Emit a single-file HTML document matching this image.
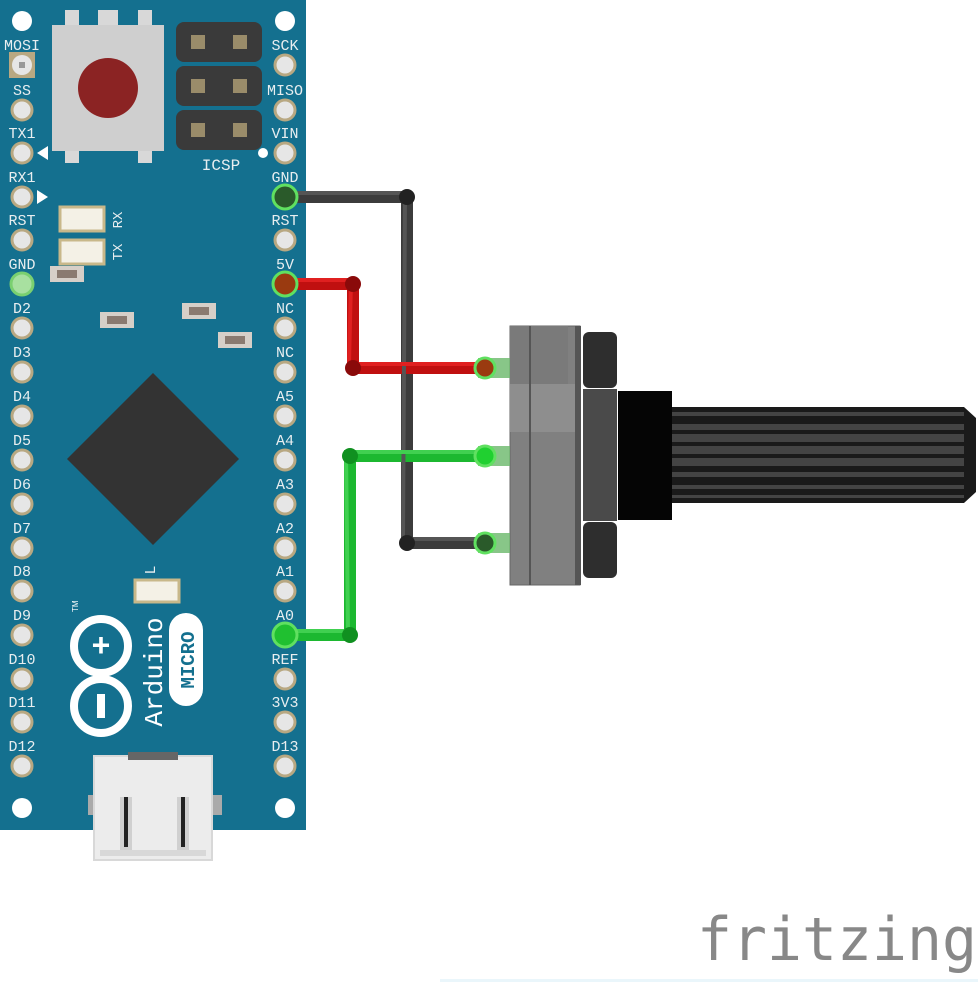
<!DOCTYPE html>
<html><head><meta charset="utf-8"><style>
html,body{margin:0;padding:0;background:#fff;width:978px;height:982px;overflow:hidden}
svg{display:block}
</style></head><body>
<svg width="978" height="982" viewBox="0 0 978 982" xmlns="http://www.w3.org/2000/svg">
<rect x="0" y="0" width="306" height="830" fill="#14708f"/>
<g fill="#fff"><circle cx="22" cy="21" r="10"/><circle cx="285" cy="21" r="10"/><circle cx="22" cy="808" r="10"/><circle cx="285" cy="808" r="10"/></g>
<g fill="#d8d8d8"><rect x="65" y="10" width="14" height="18"/><rect x="98" y="10" width="20" height="18"/><rect x="138" y="10" width="14" height="18"/><rect x="65" y="145" width="14" height="18"/><rect x="138" y="145" width="14" height="18"/></g>
<rect x="52" y="25" width="112" height="126" fill="#cfcfcf"/>
<circle cx="108" cy="88" r="30" fill="#8b2323"/>
<g fill="#3a3a3a"><rect x="176" y="22" width="86" height="40" rx="8"/><rect x="176" y="66" width="86" height="40" rx="8"/><rect x="176" y="110" width="86" height="40" rx="8"/></g>
<g fill="#9a8c6a"><rect x="191" y="35" width="14" height="14"/><rect x="233" y="35" width="14" height="14"/><rect x="191" y="79" width="14" height="14"/><rect x="233" y="79" width="14" height="14"/><rect x="191" y="123" width="14" height="14"/><rect x="233" y="123" width="14" height="14"/></g>
<circle cx="263" cy="153" r="5" fill="#fff"/>
<text x="221" y="170" font-family="Liberation Mono,monospace" font-size="16" fill="#e8eef0" text-anchor="middle">ICSP</text>
<polygon points="37,153 48,146 48,160" fill="#fff"/>
<polygon points="48,197 37,190 37,204" fill="#fff"/>
<rect x="60" y="207" width="44" height="24" fill="#f4f1e6" stroke="#c8b88a" stroke-width="3"/>
<rect x="60" y="240" width="44" height="24" fill="#f4f1e6" stroke="#c8b88a" stroke-width="3"/>
<text x="0" y="0" transform="translate(122,220) rotate(-90)" font-family="Liberation Mono,monospace" font-size="14" fill="#e8eef0" text-anchor="middle">RX</text>
<text x="0" y="0" transform="translate(122,252) rotate(-90)" font-family="Liberation Mono,monospace" font-size="14" fill="#e8eef0" text-anchor="middle">TX</text>
<rect x="135" y="580" width="44" height="22" fill="#f4f1e6" stroke="#c8b88a" stroke-width="3"/>
<text x="0" y="0" transform="translate(155,570) rotate(-90)" font-family="Liberation Mono,monospace" font-size="15" fill="#e8eef0" text-anchor="middle">L</text>
<g fill="#d6cfc8"><rect x="50" y="266" width="34" height="16"/><rect x="100" y="312" width="34" height="16"/><rect x="182" y="303" width="34" height="16"/><rect x="218" y="332" width="34" height="16"/></g>
<g fill="#8a7a70"><rect x="57" y="270" width="20" height="8"/><rect x="107" y="316" width="20" height="8"/><rect x="189" y="307" width="20" height="8"/><rect x="225" y="336" width="20" height="8"/></g>
<polygon points="153,373 239,459 153,545 67,459" fill="#333"/>
<g fill="none" stroke="#fff" stroke-width="8"><circle cx="101" cy="646" r="27"/><circle cx="101" cy="706" r="27"/></g>
<text x="101" y="656" font-family="Liberation Sans,sans-serif" font-weight="bold" font-size="32" fill="#fff" text-anchor="middle">+</text>
<rect x="97" y="694" width="8" height="24" fill="#fff"/>
<text x="0" y="0" transform="translate(162,672) rotate(-90)" font-family="Liberation Mono,monospace" font-size="26" fill="#fff" text-anchor="middle">Arduino</text>
<rect x="169" y="613" width="34" height="93" rx="17" fill="#fff"/>
<text x="0" y="0" transform="translate(194,660) rotate(-90)" font-family="Liberation Mono,monospace" font-weight="bold" font-size="19" fill="#14708f" text-anchor="middle">MICRO</text>
<text x="0" y="0" transform="translate(78,612) rotate(-90)" font-family="Liberation Sans,sans-serif" font-size="8" fill="#fff">TM</text>
<rect x="88" y="795" width="12" height="20" fill="#aaa"/><rect x="210" y="795" width="12" height="20" fill="#aaa"/>
<rect x="94" y="756" width="118" height="104" fill="#ececec"/>
<rect x="94" y="756" width="118" height="104" fill="none" stroke="#d8d8d8" stroke-width="2"/>
<rect x="128" y="752" width="50" height="8" fill="#666"/>
<rect x="120" y="797" width="12" height="55" fill="#d0d0d0"/><rect x="177" y="797" width="12" height="55" fill="#d0d0d0"/>
<rect x="124" y="797" width="4" height="50" fill="#222"/><rect x="181" y="797" width="4" height="50" fill="#222"/>
<rect x="100" y="850" width="106" height="6" fill="#d8d8d8"/>
<g font-family="Liberation Mono,monospace" font-size="15" fill="#e8eef0" text-anchor="middle">
<text x="22" y="50">MOSI</text><text x="22" y="95">SS</text><text x="22" y="138">TX1</text><text x="22" y="182">RX1</text><text x="22" y="225">RST</text><text x="22" y="269">GND</text><text x="22" y="313">D2</text><text x="22" y="357">D3</text><text x="22" y="401">D4</text><text x="22" y="445">D5</text><text x="22" y="489">D6</text><text x="22" y="533">D7</text><text x="22" y="576">D8</text><text x="22" y="620">D9</text><text x="22" y="664">D10</text><text x="22" y="707">D11</text><text x="22" y="751">D12</text>
<text x="285" y="50">SCK</text><text x="285" y="95">MISO</text><text x="285" y="138">VIN</text><text x="285" y="182">GND</text><text x="285" y="225">RST</text><text x="285" y="269">5V</text><text x="285" y="313">NC</text><text x="285" y="357">NC</text><text x="285" y="401">A5</text><text x="285" y="445">A4</text><text x="285" y="489">A3</text><text x="285" y="533">A2</text><text x="285" y="576">A1</text><text x="285" y="620">A0</text><text x="285" y="664">REF</text><text x="285" y="707">3V3</text><text x="285" y="751">D13</text>
</g>
<g fill="#e6e6e6" stroke="#b8a882" stroke-width="3">
<circle cx="22" cy="110" r="10"/><circle cx="22" cy="153" r="10"/><circle cx="22" cy="197" r="10"/><circle cx="22" cy="240" r="10"/><circle cx="22" cy="328" r="10"/><circle cx="22" cy="372" r="10"/><circle cx="22" cy="416" r="10"/><circle cx="22" cy="460" r="10"/><circle cx="22" cy="504" r="10"/><circle cx="22" cy="548" r="10"/><circle cx="22" cy="591" r="10"/><circle cx="22" cy="635" r="10"/><circle cx="22" cy="679" r="10"/><circle cx="22" cy="722" r="10"/><circle cx="22" cy="766" r="10"/>
<circle cx="285" cy="65" r="10"/><circle cx="285" cy="110" r="10"/><circle cx="285" cy="153" r="10"/><circle cx="285" cy="240" r="10"/><circle cx="285" cy="328" r="10"/><circle cx="285" cy="372" r="10"/><circle cx="285" cy="416" r="10"/><circle cx="285" cy="460" r="10"/><circle cx="285" cy="504" r="10"/><circle cx="285" cy="548" r="10"/><circle cx="285" cy="591" r="10"/><circle cx="285" cy="679" r="10"/><circle cx="285" cy="722" r="10"/><circle cx="285" cy="766" r="10"/>
</g>
<rect x="9" y="52" width="26" height="26" fill="#b8a882"/><circle cx="22" cy="65" r="10" fill="#e6e6e6"/>
<circle cx="22" cy="284" r="11" fill="#a8e0a0" stroke="#7ad070" stroke-width="3"/>
<rect x="19" y="62" width="6" height="6" fill="#999"/>
<rect x="510" y="326" width="70" height="259" fill="#808080" stroke="#666" stroke-width="1"/>
<rect x="510" y="326" width="58" height="58" fill="#7a7a7a"/>
<rect x="510" y="384" width="68" height="48" fill="#8e8e8e"/>
<line x1="530" y1="326" x2="530" y2="585" stroke="#555" stroke-width="2"/>
<rect x="575" y="326" width="6" height="259" fill="#555"/>
<rect x="583" y="332" width="34" height="56" rx="6" fill="#2e2e2e"/>
<rect x="583" y="389" width="34" height="132" fill="#4a4a4a"/>
<rect x="583" y="522" width="34" height="56" rx="6" fill="#2e2e2e"/>
<rect x="618" y="391" width="54" height="129" fill="#050505"/>
<rect x="672" y="407" width="292" height="96" fill="#1a1a1a"/>
<g fill="#444"><rect x="672" y="412" width="292" height="4"/><rect x="672" y="424" width="292" height="6"/><rect x="672" y="434" width="292" height="8"/><rect x="672" y="446" width="292" height="8"/><rect x="672" y="458" width="292" height="8"/><rect x="672" y="472" width="292" height="5"/><rect x="672" y="485" width="292" height="4"/><rect x="672" y="495" width="292" height="3"/></g>
<polygon points="964,407 976,418 976,492 964,503" fill="#1a1a1a"/>
<g fill="#6ab86a" opacity="0.8"><rect x="478" y="358" width="32" height="20"/><rect x="478" y="446" width="32" height="20"/><rect x="478" y="533" width="32" height="20"/></g>
<g fill="none" stroke-width="12" stroke-linejoin="round" stroke-linecap="round">
<polyline points="285,197 407,197 407,543 485,543" stroke="#3c3c3c"/>
<polyline points="285,284 353,284 353,368 485,368" stroke="#c01010"/>
<polyline points="285,635 350,635 350,456 485,456" stroke="#1cb830"/>
</g>
<g fill="none" stroke-width="4"><polyline points="290,193 405,193 403,539 485,539" stroke="#555"/><polyline points="290,280 351,280 349,364 485,364" stroke="#e02020"/><polyline points="290,631 348,631 346,452 485,452" stroke="#40d050"/></g>
<g><circle cx="407" cy="197" r="8" fill="#222"/><circle cx="407" cy="543" r="8" fill="#222"/><circle cx="353" cy="284" r="8" fill="#8a0a0a"/><circle cx="353" cy="368" r="8" fill="#8a0a0a"/><circle cx="350" cy="456" r="8" fill="#109020"/><circle cx="350" cy="635" r="8" fill="#109020"/></g>
<circle cx="285" cy="197" r="12" fill="#2a5a2a" stroke="#60e060" stroke-width="3"/>
<circle cx="285" cy="284" r="12" fill="#9a3a10" stroke="#60e060" stroke-width="3"/>
<circle cx="285" cy="635" r="12" fill="#20c030" stroke="#60e060" stroke-width="3"/>
<circle cx="485" cy="368" r="10" fill="#9a3a10" stroke="#60e060" stroke-width="3"/>
<circle cx="485" cy="456" r="10" fill="#20d030" stroke="#60e060" stroke-width="3"/>
<circle cx="485" cy="543" r="10" fill="#2a5a2a" stroke="#60e060" stroke-width="3"/>
<text x="697" y="960" font-family="DejaVu Sans Mono,Liberation Mono,monospace" font-size="60" fill="#888" textLength="280" lengthAdjust="spacingAndGlyphs">fritzing</text>
<rect x="440" y="979" width="538" height="3" fill="#eaf6fb"/>
</svg>
</body></html>
